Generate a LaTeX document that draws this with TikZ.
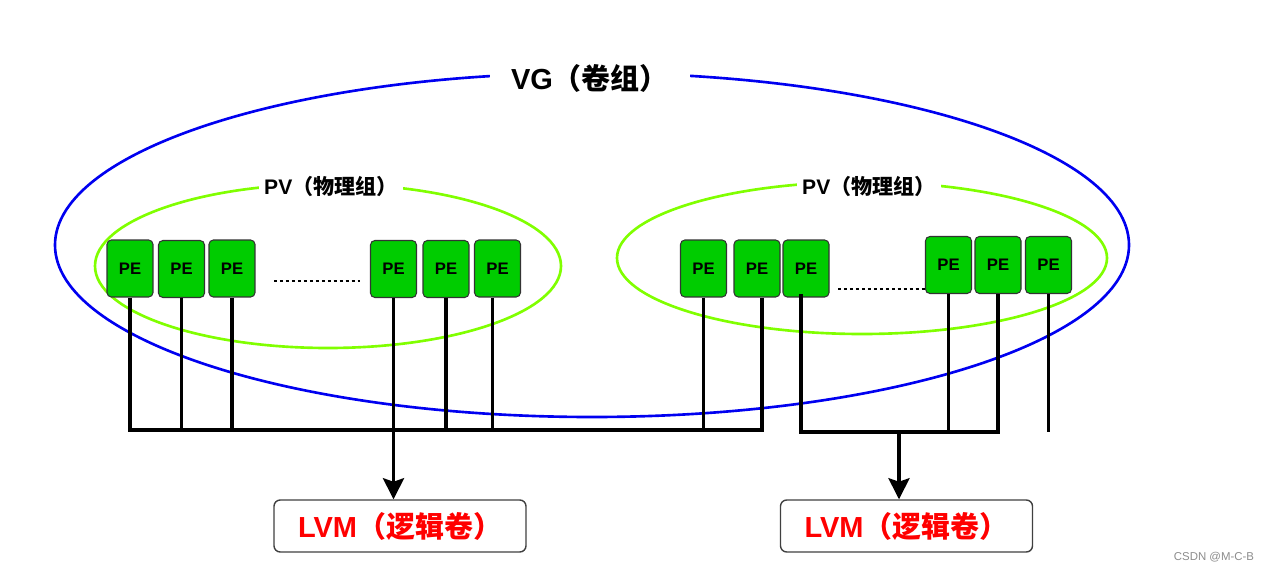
\documentclass[tikz,border=0pt]{standalone}
\usepackage{fontspec}
\setmainfont{Liberation Sans}
\newfontfamily\cjk{Noto Sans CJK SC}
\usetikzlibrary{arrows.meta}
\definecolor{pegreen}{RGB}{0,204,0}
\definecolor{pvgreen}{RGB}{128,255,0}
\definecolor{vgblue}{RGB}{0,0,240}
\newcommand{\lvmtext}{LVM{\cjk（逻辑卷）}}
\newcommand{\pvtext}{PV{\cjk（物理组）}}

\begin{document}
\begin{tikzpicture}[x=0.02cm,y=-0.02cm,
        pe/.style={draw=black!80,line width=0.6pt,fill=pegreen,rounded corners=2.5pt,inner sep=0pt,
                   minimum width=0.92cm,minimum height=1.14cm,font=\fontsize{9.5}{11}\selectfont\bfseries},
        lvm/.style={draw=black!75,line width=0.8pt,rounded corners=3.5pt,fill=white,inner sep=0pt,
                    minimum width=5.04cm,minimum height=1.04cm,text=red,font=\fontsize{16.5}{19}\selectfont\bfseries},
        titlebox/.style={fill=white,inner ysep=2pt},
        leg/.style={line width=2pt},
        bus/.style={line width=2.2pt,line cap=rect},
        dotline/.style={line width=1.7pt,dash pattern=on 1.7pt off 1.7pt}
    ]
    \useasboundingbox (0,0) rectangle (1265,571);

    \draw[vgblue,line width=1.5pt] (592,245) ellipse [x radius=537, y radius=172];
    \draw[pvgreen,line width=1.5pt] (328,266) ellipse [x radius=233, y radius=82];
    \draw[pvgreen,line width=1.5pt] (862,258) ellipse [x radius=245, y radius=76];

    \node[titlebox,inner xsep=12pt,font=\fontsize{16.5}{19}\selectfont\bfseries] (vg) at (590,78) {VG{\cjk（卷组）}};
    \node[titlebox,inner xsep=3pt,font=\fontsize{12}{14}\selectfont\bfseries] (pvA) at (331,186) {\pvtext};
    \node[titlebox,inner xsep=3pt,font=\fontsize{12}{14}\selectfont\bfseries] (pvB) at (869,186) {\pvtext};

    \node[pe] (p1) at (130,268.5) {PE};
    \node[pe] (p2) at (181.5,269) {PE};
    \node[pe] (p3) at (232,268.5) {PE};
    \node[pe] (p4) at (393.5,269) {PE};
    \node[pe] (p5) at (446,269) {PE};
    \node[pe] (p6) at (497.5,268.5) {PE};
    \node[pe] (p7) at (703.5,268.5) {PE};
    \node[pe] (p8) at (757,268.5) {PE};
    \node[pe] (p9) at (806,268.5) {PE};
    \node[pe] (p10) at (948.5,265) {PE};
    \node[pe] (p11) at (998,265) {PE};
    \node[pe] (p12) at (1048.5,265) {PE};

    \draw[dotline] (274,281) -- (360,281);
    \draw[dotline] (838,289) -- (p10.west |- 0,289);

    \node[lvm] (lvmA) at (400,526) {\lvmtext};
    \node[lvm] (lvmB) at (906.5,526) {\lvmtext};

    % legs and buses
    \coordinate (busA) at (0,430);
    \coordinate (busB) at (0,432);
    \coordinate (arrB) at (899,432);
    \coordinate (leg6) at ([xshift=-0.1cm]p6.south);
    \coordinate (leg8) at ([xshift=0.1cm]p8.south);
    \coordinate (leg9) at ([xshift=-0.1cm]p9.south);
    \foreach \p in {p1,p2,p3,p5,leg6,p7,leg8}
        \draw[leg] (\p |- p1.south) -- (\p |- busA);
    \foreach \p in {leg9,p10,p11,p12}
        \draw[leg] (\p |- p10.south) -- (\p |- busB);
    \draw[bus] (p1.south |- busA) -- (leg8 |- busA);
    \draw[bus] (leg9 |- busB) -- (p11.south |- busB);
    \draw[leg,-{Stealth[length=12pt,width=12pt,inset=2pt]}] (p4.south) -- (p4.south |- lvmA.north);
    \draw[leg,-{Stealth[length=12pt,width=12pt,inset=2pt]}] (arrB) -- (arrB |- lvmB.north);

    \node[text=black!45,font=\fontsize{6.5}{8}\selectfont] (mark) at (1214,557) {CSDN @M-C-B};
\end{tikzpicture}
\end{document}
